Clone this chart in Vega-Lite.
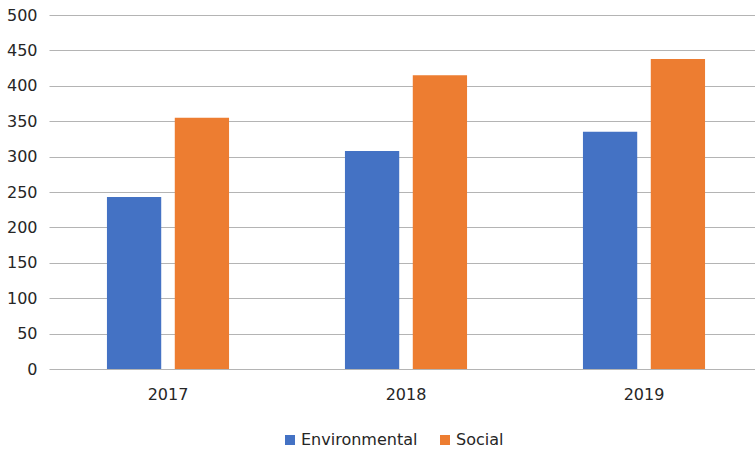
{
  "$schema": "https://vega.github.io/schema/vega-lite/v6.json",
  "width": 714,
  "height": 354,
  "autosize": {"type": "none"},
  "padding": {"left": 49, "top": 15, "right": -8, "bottom": 83},
  "background": "white",
  "data": {"values": [
    {"year": "2017", "category": "Environmental", "value": 243},
    {"year": "2017", "category": "Social", "value": 355},
    {"year": "2018", "category": "Environmental", "value": 308},
    {"year": "2018", "category": "Social", "value": 415},
    {"year": "2019", "category": "Environmental", "value": 335},
    {"year": "2019", "category": "Social", "value": 438}
  ]},
  "config": {
    "view": {"stroke": null},
    "font": "DejaVu Sans",
    "axis": {"labelFont": "DejaVu Sans", "labelFontSize": 16, "labelColor": "#262626"}
  },
  "mark": {"type": "bar"},
  "encoding": {
    "x": {
      "field": "year", "type": "nominal",
      "scale": {"paddingInner": 0.487, "paddingOuter": 0.2435},
      "axis": {"title": null, "labelAngle": 0, "ticks": false, "domain": false, "labelPadding": 17, "grid": false}
    },
    "xOffset": {
      "field": "category", "type": "nominal",
      "scale": {"paddingInner": 0.2, "paddingOuter": 0}
    },
    "y": {
      "field": "value", "type": "quantitative",
      "scale": {"domain": [0, 500], "nice": false},
      "axis": {"title": null, "values": [0, 50, 100, 150, 200, 250, 300, 350, 400, 450, 500], "ticks": false, "domain": false, "labelPadding": 12, "gridColor": "#b4b4b4", "gridWidth": 1}
    },
    "color": {
      "field": "category", "type": "nominal",
      "scale": {"domain": ["Environmental", "Social"], "range": ["#4472C4", "#ED7D31"]},
      "legend": {"title": null, "orient": "none", "direction": "horizontal", "legendX": 233, "legendY": 417, "symbolType": "square", "symbolSize": 100, "symbolStrokeWidth": 0, "labelFontSize": 16, "labelFont": "DejaVu Sans", "labelColor": "#262626", "columnPadding": 19, "labelOffset": 3}
    }
  }
}
